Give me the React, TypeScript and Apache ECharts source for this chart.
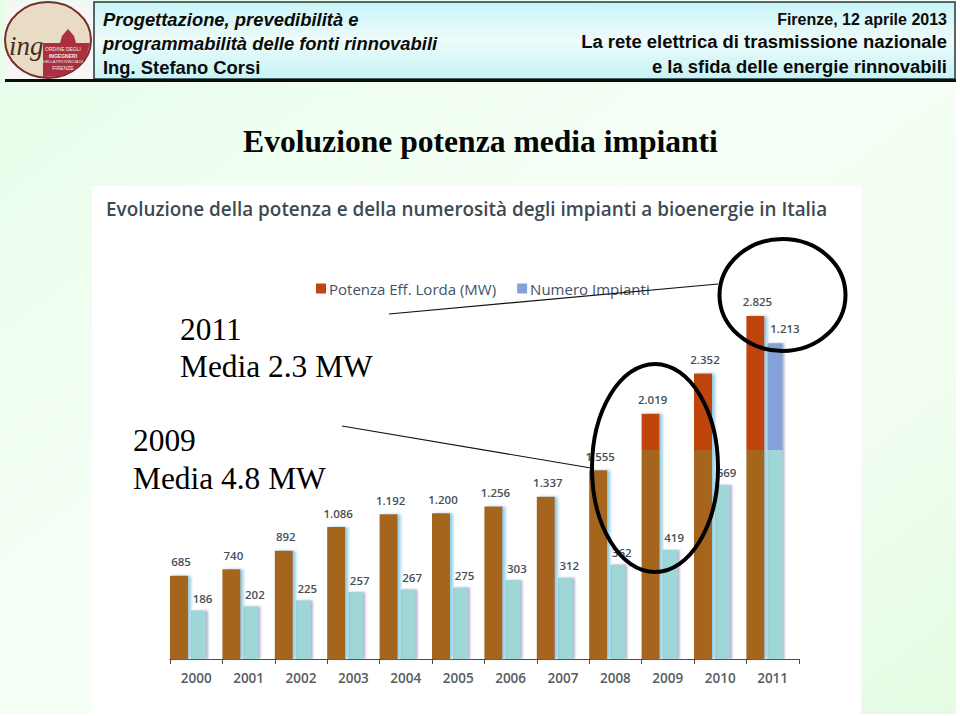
import React, { useEffect, useRef } from "react";
import * as echarts from "echarts";

const years = ["2000","2001","2002","2003","2004","2005","2006","2007","2008","2009","2010","2011"];
const potenza = [685,740,892,1086,1192,1200,1256,1337,1555,2019,2352,2825];
const impianti = [186,202,225,257,267,275,303,312,362,419,669,1213];
const spacer = years.map(() => null);
const potenzaSplit = 1722;
const impiantiSplit = 803;

const fmt = (v: number) => {
  const s = String(v);
  return s.length > 3 ? s.slice(0, s.length - 3) + "." + s.slice(-3) : s;
};

const twoTone = (value: number, split: number, top: string, bottom: string) => {
  if (value <= split) return bottom;
  const t = 1 - split / value;
  return {
    type: "linear", x: 0, y: 0, x2: 0, y2: 1,
    colorStops: [
      { offset: 0, color: top }, { offset: t, color: top },
      { offset: t, color: bottom }, { offset: 1, color: bottom },
    ],
  };
};

const SANS = "'Liberation Sans', Arial, sans-serif";
const SERIF = "'Liberation Serif', 'Times New Roman', serif";
const CHART = "'Open Sans', sans-serif";

const headerText = (text: string, x: number, y: number, align: string, style: string, size: number) => ({
  type: "text", x, y, z: 10,
  style: { text, fontFamily: SANS, fontSize: size, fontWeight: "bold", fontStyle: style, fill: "#0b0b0b", textAlign: align, textVerticalAlign: "middle" },
});
const bigText = (text: string, x: number, y: number) => ({
  type: "text", x, y, z: 60,
  style: { text, fontFamily: SERIF, fontSize: 31.4, fill: "#000", textAlign: "left", textVerticalAlign: "middle" },
});
const logoText = (text: string, x: number, y: number, size: number, weight: string) => ({
  type: "text", x, y, z: 9,
  style: { text, fontFamily: SANS, fontSize: size, fontWeight: weight, fill: "#f6ece6", textAlign: "center", textVerticalAlign: "middle" },
});

export default function App() {
  const ref = useRef<HTMLDivElement>(null);
  useEffect(() => {
    document.body.style.margin = "0";
    document.body.style.overflow = "hidden";
    const chart = echarts.init(ref.current!, undefined, { renderer: "svg" });
    chart.setOption({
      animation: false,
      backgroundColor: {
        type: "linear", x: 0, y: 0, x2: 1, y2: 1,
        colorStops: [
          { offset: 0, color: "#e6fde8" },
          { offset: 0.45, color: "#f6fff6" },
          { offset: 0.75, color: "#f1fef0" },
          { offset: 1, color: "#e4fbe2" },
        ],
      },
      title: [
        {
          text: "Evoluzione potenza media impianti", left: 475.5, top: 120, textAlign: "center", z: 20,
          textStyle: { fontFamily: SERIF, fontSize: 31.6, fontWeight: "bold", color: "#050505" },
        },
        {
          text: "Evoluzione della potenza e della numerosità degli impianti a bioenergie in Italia",
          left: 101, top: 194, z: 20,
          textStyle: { fontFamily: CHART, fontSize: 18.9, fontWeight: 600, color: "#3d4a54" },
        },
      ],
      legend: {
        left: 311, top: 276, itemWidth: 10, itemHeight: 10, itemGap: 21, icon: "rect", selectedMode: false,
        data: ["Potenza Eff. Lorda (MW)", "Numero Impianti"],
        textStyle: { fontFamily: CHART, fontSize: 15, fontWeight: 500, color: "#3f5266", padding: [0, 0, 0, -2] },
      },
      grid: { left: 170, width: 628.8, top: 294.7, bottom: 57, containLabel: false },
      xAxis: {
        type: "category", data: years,
        axisLine: { lineStyle: { color: "#4a4a50", width: 1.2 } },
        axisTick: { show: true, length: 5, lineStyle: { color: "#4a4a50" } },
        axisLabel: { fontFamily: CHART, fontSize: 13.5, fontWeight: 600, color: "#565c60", margin: 12 },
      },
      yAxis: [
        { type: "value", min: 0, max: 3000, show: false, splitLine: { show: false } },
        { type: "value", min: 0, max: 1400, show: false, splitLine: { show: false } },
      ],
      graphic: {
        elements: [
          { type: "rect", z: 0, shape: { x: 92, y: 186, width: 769, height: 528 }, style: { fill: "#fff" } },
          { type: "rect", z: 0, shape: { x: 956, y: 0, width: 4, height: 716 }, style: { fill: "#fff" } },
          { type: "rect", z: 0, shape: { x: 0, y: 714, width: 960, height: 2 }, style: { fill: "#fff" } },
          {
            type: "rect", z: 5, shape: { x: 94, y: 2, width: 861, height: 77 },
            style: {
              stroke: "#26363a", lineWidth: 1.5,
              fill: {
                type: "linear", x: 0, y: 0, x2: 0, y2: 1,
                colorStops: [
                  { offset: 0, color: "#c8f5f8" }, { offset: 0.5, color: "#eefbf9" }, { offset: 1, color: "#c4f3f7" },
                ],
              },
            },
          },
          { type: "rect", z: 6, shape: { x: 5, y: 79, width: 951, height: 3 }, style: { fill: "#0c0c0c" } },
          { type: "rect", z: 6, shape: { x: 5, y: 1, width: 88, height: 78 }, style: { fill: "#f6f6f4" } },
          { type: "ellipse", z: 7, shape: { cx: 48, cy: 40, rx: 43, ry: 38 }, style: { fill: "#e8dcc4", stroke: "#7b2a30", lineWidth: 2 } },
          { type: "polygon", z: 8, shape: { points: [[43,77],[43,43],[60,43],[62,36],[68,29],[74,36],[76,43],[90,43],[86,58],[76,69],[62,76]] }, style: { fill: "#ab2f40" } },
          { type: "text", z: 9, x: 9, y: 46, style: { text: "ing", fontFamily: SERIF, fontStyle: "italic", fontSize: 27, fill: "#4a2a20", textVerticalAlign: "middle" } },
          logoText("ORDINE DEGLI", 63, 49, 5, "normal"),
          logoText("INGEGNERI", 63, 55.5, 5, "bold"),
          logoText("DELLA PROVINCIA DI", 63, 61.5, 4, "normal"),
          logoText("FIRENZE", 63, 67.5, 5, "normal"),
          headerText("Progettazione, prevedibilità e", 103, 19, "left", "italic", 18.4),
          headerText("programmabilità delle fonti rinnovabili", 103, 43, "left", "italic", 18.4),
          headerText("Ing. Stefano Corsi", 103, 67.5, "left", "normal", 18.4),
          headerText("Firenze, 12 aprile 2013", 947, 19, "right", "normal", 16),
          headerText("La rete elettrica di trasmissione nazionale", 947, 41, "right", "normal", 18.45),
          headerText("e la sfida delle energie rinnovabili", 947, 66, "right", "normal", 18.45),
          bigText("2011", 180, 329),
          bigText("Media 2.3 MW", 180, 366),
          bigText("2009", 133, 440),
          bigText("Media 4.8 MW", 133, 478),
          { type: "line", z: 60, shape: { x1: 389, y1: 314, x2: 718, y2: 284 }, style: { stroke: "#111", lineWidth: 1.2 } },
          { type: "line", z: 60, shape: { x1: 342, y1: 426, x2: 591, y2: 468 }, style: { stroke: "#111", lineWidth: 1.2 } },
          { type: "ellipse", z: 60, shape: { cx: 782.5, cy: 295, rx: 63, ry: 56 }, style: { fill: "none", stroke: "#000", lineWidth: 4 } },
          { type: "ellipse", z: 60, shape: { cx: 655, cy: 468, rx: 63, ry: 104 }, style: { fill: "none", stroke: "#000", lineWidth: 4 } },
        ],
      },
      series: [
        {
          name: "Potenza Eff. Lorda (MW)", type: "bar", yAxisIndex: 0, barWidth: 18, barGap: "16.7%", z: 3,
          itemStyle: { color: "#c0440f" },
          label: {
            show: true, position: "top", distance: 8, offset: [2, 0],
            fontFamily: CHART, fontSize: 11.5, fontWeight: 600, color: "#454f5a",
            formatter: (p: any) => fmt(p.value),
          },
          data: potenza.map((v) => ({
            value: v,
            itemStyle: {
              color: twoTone(v, potenzaSplit, "#c0440f", "#a5651a"),
              shadowColor: "rgba(110,190,215,0.75)", shadowBlur: 3, shadowOffsetX: 3,
            },
          })),
        },
        {
          name: "Numero Impianti", type: "bar", yAxisIndex: 1, barWidth: 15, z: 2,
          itemStyle: { color: "#85a2d8" },
          label: {
            show: true, position: "top", distance: 6, offset: [4, 0],
            fontFamily: CHART, fontSize: 11.5, fontWeight: 600, color: "#454f5a",
            formatter: (p: any) => fmt(p.value),
          },
          data: impianti.map((v) => ({
            value: v,
            label: v > 1000 ? { offset: [10, -3] } : undefined,
            itemStyle: {
              color: twoTone(v, impiantiSplit, "#85a2d8", "#9fd6d6"),
              shadowColor: "rgba(130,120,180,0.6)", shadowBlur: 2, shadowOffsetX: 2,
            },
          })),
        },
        { name: "spacer", type: "bar", yAxisIndex: 0, barWidth: 13.9, silent: true, data: spacer, itemStyle: { color: "transparent" } },
      ],
    });
    return () => chart.dispose();
  }, []);
  return <div ref={ref} style={{ width: 960, height: 716, position: "fixed", left: 0, top: 0 }} />;
}
